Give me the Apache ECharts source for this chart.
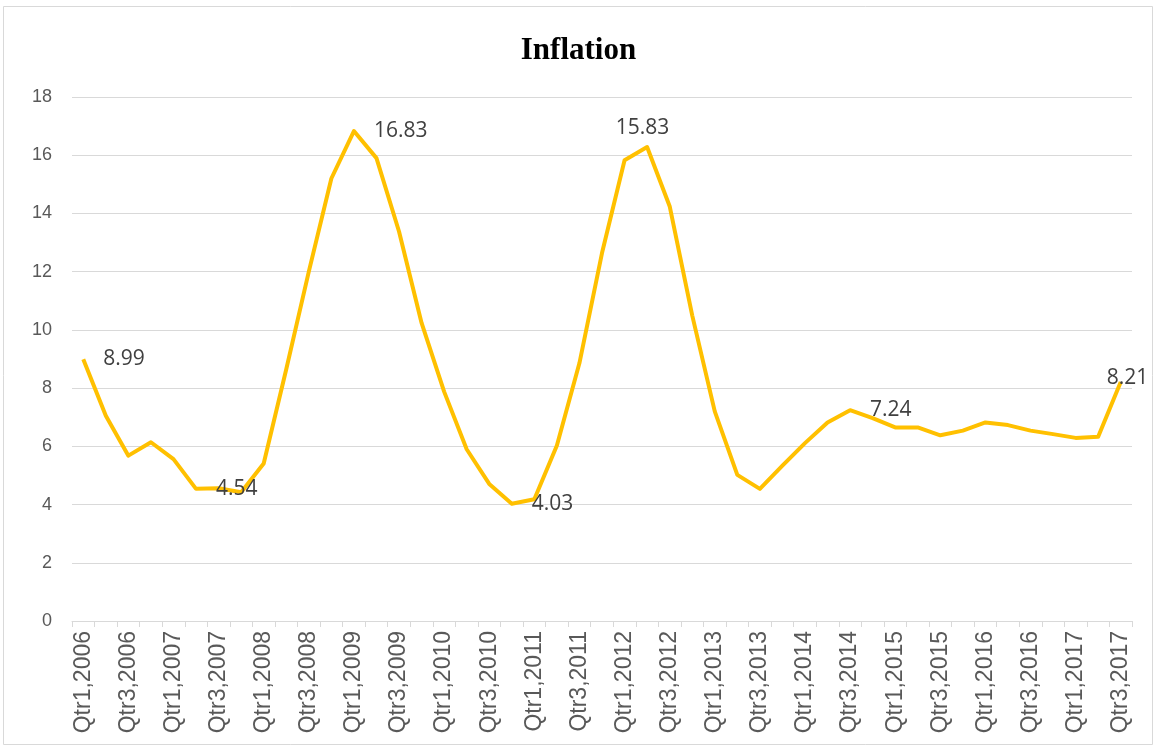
<!DOCTYPE html>
<html>
<head>
<meta charset="utf-8">
<title>Inflation</title>
<script src="https://cdn.jsdelivr.net/npm/echarts@6/dist/echarts.min.js"></script>
<style>
  html, body { margin: 0; padding: 0; background: #fff; }
  #chart { width: 1157px; height: 749px; }
</style>
</head>
<body>
<div id="chart"></div>
<script>
// quarters Qtr1,2006 .. Qtr3,2017
var years = [2006, 2007, 2008, 2009, 2010, 2011, 2012, 2013, 2014, 2015, 2016, 2017];
var quarters = [];
years.forEach(function (y) {
    for (var q = 1; q <= 4; q++) {
        if (y === 2017 && q === 4) break;
        quarters.push('Qtr' + q + ',' + y);
    }
});

var inflation = [
    8.99, 7.05, 5.68, 6.14, 5.56, 4.54, 4.56, 4.42,
    5.41, 8.65, 12.0, 15.2, 16.83, 15.9, 13.38, 10.24,
    7.88, 5.9, 4.71, 4.03, 4.18, 6.03, 8.86, 12.64,
    15.83, 16.28, 14.25, 10.5, 7.2, 5.02, 4.54, 5.34,
    6.11, 6.82, 7.24, 6.97, 6.65, 6.65, 6.38, 6.54,
    6.82, 6.73, 6.54, 6.42, 6.29, 6.33, 8.21
];

// which points carry a value label, and how it sits
var labelled = {
    0: { position: 'right', distance: 20 },
    5: { position: 'right', distance: 20 },
    12: { position: 'right', distance: 20 },
    19: { position: 'right', distance: 20 },
    24: { position: 'top', distance: 5, offset: [18, -17] },
    34: { position: 'right', distance: 20 },
    46: { position: 'right', distance: -14, offset: [0, -4] }
};

var seriesData = inflation.map(function (v, i) {
    var item = { value: v };
    if (labelled[i]) {
        item.label = Object.assign({ show: true }, labelled[i]);
    }
    return item;
});

var chart = echarts.init(document.getElementById('chart'));
chart.setOption({
    animation: false,
    backgroundColor: '#fff',
    title: {
        text: 'Inflation',
        left: 'center',
        top: 30,
        textStyle: {
            fontFamily: 'Liberation Serif',
            fontWeight: 'bold',
            fontSize: 31,
            color: '#000'
        }
    },
    graphic: [{
        type: 'rect',
        shape: { x: 3.5, y: 6.5, width: 1149, height: 738 },
        style: { fill: 'none', stroke: '#d9d9d9', lineWidth: 1 },
        silent: true
    }],
    grid: { left: 72, right: 25, top: 97, bottom: 128 },
    xAxis: {
        type: 'category',
        data: quarters,
        boundaryGap: true,
        axisLine: { lineStyle: { color: '#d9d9d9', width: 1 } },
        axisTick: { show: true, interval: 0, length: 6, lineStyle: { color: '#d9d9d9' } },
        axisLabel: {
            interval: 1,
            rotate: 90,
            margin: 10,
            fontFamily: 'Liberation Sans',
            fontSize: 23,
            color: '#595959'
        }
    },
    yAxis: {
        type: 'value',
        min: 0,
        max: 18,
        interval: 2,
        axisLine: { show: false },
        axisTick: { show: false },
        axisLabel: {
            margin: 20,
            fontFamily: 'Liberation Sans',
            fontSize: 18,
            color: '#595959'
        },
        splitLine: { lineStyle: { color: '#d9d9d9', width: 1 } }
    },
    series: [{
        type: 'line',
        data: seriesData,
        symbol: 'circle',
        symbolSize: 0,
        showAllSymbol: true,
        lineStyle: { color: '#FFC000', width: 4, join: 'round' },
        itemStyle: { color: '#FFC000' },
        label: {
            show: false,
            fontFamily: 'Open Sans',
            fontSize: 21,
            color: '#404040'
        }
    }]
});
</script>
</body>
</html>
